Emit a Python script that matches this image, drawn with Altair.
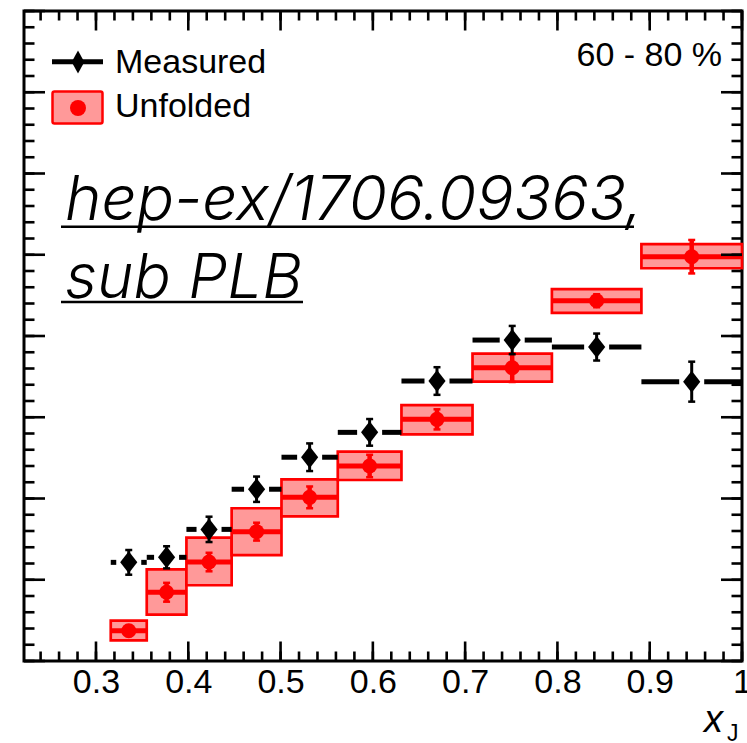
import altair as alt
import pandas as pd
import numpy as np

# x_J bin edges (log-spaced) and the values per bin
bin_edges = [0.316, 0.355, 0.398, 0.447, 0.501, 0.562, 0.631, 0.708, 0.794, 0.891, 1.0]
measured = [0.607, 0.638, 0.810, 1.057, 1.254, 1.407, 1.723, 1.975, 1.932, 1.719]
measured_err = [0.076, 0.068, 0.078, 0.078, 0.085, 0.082, 0.085, 0.087, 0.083, 0.123]
unfolded = [0.186, 0.423, 0.609, 0.796, 1.007, 1.200, 1.487, 1.805, 2.217, 2.488]
unfolded_stat = [0.030, 0.058, 0.057, 0.055, 0.067, 0.069, 0.062, 0.088, 0.040, 0.103]
unfolded_sys_low = [0.127, 0.285, 0.466, 0.652, 0.890, 1.114, 1.395, 1.719, 2.142, 2.417]
unfolded_sys_high = [0.248, 0.564, 0.759, 0.940, 1.118, 1.288, 1.575, 1.891, 2.289, 2.565]

x_major = [0.3, 0.4, 0.5, 0.6, 0.7, 0.8, 0.9, 1.0]
x_minor = [round(v, 2) for v in np.arange(0.24, 1.0001, 0.02)]
y_major = [round(v, 2) for v in np.arange(0.0, 4.0001, 0.5)]
y_minor = [round(v, 2) for v in np.arange(0.0, 4.0001, 0.1)]

W, H = 718, 650
FONT = "Liberation Sans"
RED = "#ff0000"
PINK = "#ff9999"

lo = np.array(bin_edges[:-1])
hi = np.array(bin_edges[1:])
df = pd.DataFrame({
    "lo": lo,
    "hi": hi,
    "xc": (lo + hi) / 2,
    "meas": measured,
    "meas_lo": np.array(measured) - np.array(measured_err),
    "meas_hi": np.array(measured) + np.array(measured_err),
    "unf": unfolded,
    "unf_lo": np.array(unfolded) - np.array(unfolded_stat),
    "unf_hi": np.array(unfolded) + np.array(unfolded_stat),
    "sys_lo": unfolded_sys_low,
    "sys_hi": unfolded_sys_high,
})

xs = alt.Scale(domain=[0.222, 1.0], nice=False, zero=False)
ys = alt.Scale(domain=[0, 4], nice=False, zero=False)
xaxis = alt.Axis(
    values=x_major, title=None, domain=False, ticks=False, grid=False,
    labelExpr="datum.value == 1 ? '1' : format(datum.value, '.1f')",
    labelFont=FONT, labelFontSize=34, labelColor="black", labelPadding=4,
    labelFlush=False, labelOverlap=False,
)


def X(field):
    return alt.X(field, type="quantitative", scale=xs, axis=xaxis)


def Y(field):
    return alt.Y(field, type="quantitative", scale=ys, axis=None)


DIAMOND = "M0,-1L0.78,0L0,1L-0.78,0Z"
DIAMOND_NARROW = "M0,-1L0.55,0L0,1L-0.55,0Z"

base = alt.Chart(df)

# unfolded: systematic boxes, bin-wide line, stat bars, markers
boxes = base.mark_rect(fill=PINK, stroke=RED, strokeWidth=2.7).encode(
    x=X("lo"), x2="hi", y=Y("sys_lo"), y2="sys_hi")
unf_line = base.mark_rule(color=RED, strokeWidth=5).encode(
    x=X("lo"), x2="hi", y=Y("unf"))
unf_bar = base.mark_rule(color=RED, strokeWidth=4.5).encode(
    x=X("xc"), y=Y("unf_lo"), y2="unf_hi")
unf_cap_hi = base.mark_rule(color=RED, strokeWidth=2.5, xOffset=-3.5, x2Offset=3.5).encode(
    x=X("xc"), x2="xc", y=Y("unf_hi"))
unf_cap_lo = base.mark_rule(color=RED, strokeWidth=2.5, xOffset=-3.5, x2Offset=3.5).encode(
    x=X("xc"), x2="xc", y=Y("unf_lo"))
unf_dot = base.mark_circle(color=RED, opacity=1, size=225).encode(
    x=X("xc"), y=Y("unf"))

# measured: bin-wide line with a gap around the marker, stat bars, diamonds
meas_left = base.mark_rule(color="black", strokeWidth=5, x2Offset=-12.5).encode(
    x=X("lo"), x2="xc", y=Y("meas"))
meas_right = base.mark_rule(color="black", strokeWidth=5, xOffset=12.5).encode(
    x=X("xc"), x2="hi", y=Y("meas"))
meas_bar = base.mark_rule(color="black", strokeWidth=3).encode(
    x=X("xc"), y=Y("meas_lo"), y2="meas_hi")
meas_cap_hi = base.mark_rule(color="black", strokeWidth=2.5, xOffset=-3.5, x2Offset=3.5).encode(
    x=X("xc"), x2="xc", y=Y("meas_hi"))
meas_cap_lo = base.mark_rule(color="black", strokeWidth=2.5, xOffset=-3.5, x2Offset=3.5).encode(
    x=X("xc"), x2="xc", y=Y("meas_lo"))
meas_pt = base.mark_point(shape=DIAMOND, filled=True, size=484, color="black",
                          opacity=1, strokeWidth=0).encode(x=X("xc"), y=Y("meas"))

# inward ticks on all four sides
xt_major = alt.Chart(pd.DataFrame({"t": x_major}))
xt_minor = alt.Chart(pd.DataFrame({"t": x_minor}))
yt_major = alt.Chart(pd.DataFrame({"t": y_major}))
yt_minor = alt.Chart(pd.DataFrame({"t": y_minor}))
TW = 2.6
ticks = [
    xt_major.mark_rule(color="black", strokeWidth=TW).encode(
        x=X("t"), y=alt.value(H), y2=alt.value(H - 19.5)),
    xt_minor.mark_rule(color="black", strokeWidth=TW).encode(
        x=X("t"), y=alt.value(H), y2=alt.value(H - 9.5)),
    xt_major.mark_rule(color="black", strokeWidth=TW).encode(
        x=X("t"), y=alt.value(0), y2=alt.value(19.5)),
    xt_minor.mark_rule(color="black", strokeWidth=TW).encode(
        x=X("t"), y=alt.value(0), y2=alt.value(9.5)),
    yt_major.mark_rule(color="black", strokeWidth=TW).encode(
        y=Y("t"), x=alt.value(0), x2=alt.value(21)),
    yt_minor.mark_rule(color="black", strokeWidth=TW).encode(
        y=Y("t"), x=alt.value(0), x2=alt.value(10.5)),
    yt_major.mark_rule(color="black", strokeWidth=TW).encode(
        y=Y("t"), x=alt.value(W), x2=alt.value(W - 21)),
    yt_minor.mark_rule(color="black", strokeWidth=TW).encode(
        y=Y("t"), x=alt.value(W), x2=alt.value(W - 10.5)),
]

one = alt.Chart(pd.DataFrame({"a": [0]}))


def label(text, x, y, size, align="left", style="normal", weight="normal", font=FONT):
    return one.mark_text(text=text, align=align, baseline="alphabetic", font=font,
                         fontSize=size, fontStyle=style, fontWeight=weight,
                         color="black").encode(x=alt.value(x), y=alt.value(y))


# legend
leg = [
    one.mark_rule(color="black", strokeWidth=5).encode(
        x=alt.value(28), x2=alt.value(79), y=alt.value(50.7)),
    one.mark_point(shape=DIAMOND_NARROW, filled=True, size=530, color="black",
                   opacity=1, strokeWidth=0).encode(x=alt.value(54), y=alt.value(51)),
    one.mark_rect(fill=PINK, stroke=RED, strokeWidth=2.5, cornerRadius=2).encode(
        x=alt.value(28.5), x2=alt.value(78.5), y=alt.value(80.5), y2=alt.value(112.5)),
    one.mark_circle(color=RED, opacity=1, size=256).encode(x=alt.value(54), y=alt.value(97)),
    label("Measured", 91, 61.7, 34),
    label("Unfolded", 91, 105.7, 34),
]

# annotations
notes = [
    label("60 - 80 %", 698, 55, 34, align="right"),
    label("hep-ex/1706.09363,", 41, 209, 62, style="italic", weight=300, font="Inter"),
    label("sub PLB", 41, 286.7, 62, style="italic", weight=300, font="Inter"),
    one.mark_rule(color="black", strokeWidth=2.5).encode(
        x=alt.value(37), x2=alt.value(610), y=alt.value(215.7)),
    one.mark_rule(color="black", strokeWidth=2.5).encode(
        x=alt.value(37), x2=alt.value(279), y=alt.value(291)),
    label("x", 699, 721, 38, align="right", style="italic"),
    label("J", 703, 730, 23),
]

chart = alt.layer(
    boxes, unf_line, unf_bar, unf_cap_hi, unf_cap_lo, unf_dot,
    meas_left, meas_right, meas_bar, meas_cap_hi, meas_cap_lo, meas_pt,
    *ticks, *leg, *notes,
).properties(
    width=W, height=H,
    autosize=alt.AutoSizeParams(type="none"),
    padding={"left": 24, "top": 11, "right": 5, "bottom": 82},
    background="white",
).configure_view(stroke="black", strokeWidth=3)

chart.save("out.html", embed_options={"renderer": "svg", "actions": False})
